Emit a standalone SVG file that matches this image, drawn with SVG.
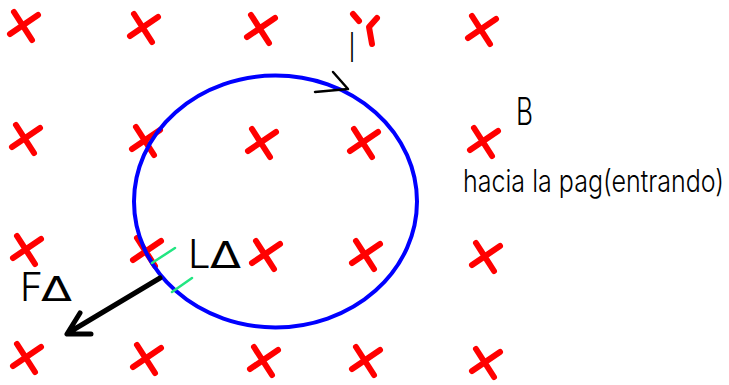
<svg xmlns="http://www.w3.org/2000/svg" width="729" height="385" viewBox="0 0 729 385">
<style>
.x{fill:none;stroke:#ff0000;stroke-width:6;stroke-linecap:round;stroke-linejoin:round}
.ring{fill:none;stroke:#0000ff;stroke-width:4}
.blk{fill:none;stroke:#000;stroke-linecap:round;stroke-linejoin:round}
.grn{fill:none;stroke:#22e682;stroke-width:2.5;stroke-linecap:round}
.t{font-family:Inter,"Liberation Sans",sans-serif;font-weight:300;fill:#000}
.d{font-family:"DejaVu Sans","Liberation Sans",sans-serif;font-weight:normal;fill:#000}
</style>
<defs>
<path id="xm" d="M-11,-15 L7,13 M13,-12 L-15,7"/>
</defs>
<rect width="729" height="385" fill="#fff"/>
<g id="field">
<use href="#xm" class="x" x="25" y="27"/>
<use href="#xm" class="x" x="145" y="29"/>
<use href="#xm" class="x" x="262" y="30"/>
<path class="x" d="M353,14 L359,21 M377,18 L369,27 L372,44" stroke-width="5"/>
<use href="#xm" class="x" x="483" y="31"/>
<use href="#xm" class="x" x="27" y="140"/>
<use href="#xm" class="x" x="147" y="142"/>
<use href="#xm" class="x" x="263" y="144"/>
<use href="#xm" class="x" x="365" y="144"/>
<use href="#xm" class="x" x="485" y="143"/>
<use href="#xm" class="x" x="28" y="251"/>
<use href="#xm" class="x" x="148" y="253"/>
<use href="#xm" class="x" x="267" y="256"/>
<use href="#xm" class="x" x="367" y="256"/>
<use href="#xm" class="x" x="487" y="258"/>
<use href="#xm" class="x" x="28" y="359"/>
<use href="#xm" class="x" x="148" y="360"/>
<use href="#xm" class="x" x="265" y="362"/>
<use href="#xm" class="x" x="367" y="362"/>
<use href="#xm" class="x" x="487" y="364"/>
</g>
<g id="loop">
<ellipse class="ring" cx="275.5" cy="201.5" rx="141.5" ry="126"/>
<path class="blk" stroke-width="2.5" d="M333,72 L348,89 L315,92"/>
</g>
<g id="segment">
<path class="grn" d="M152,263 L175,248 M172,292 L192,278"/>
</g>
<g id="force">
<path class="blk" stroke-width="5" d="M160,278 L68,333 M80,313 L67,334 L91,334"/>
</g>
<g id="labels">
<text class="t" x="349" y="62" font-size="41" textLength="6" lengthAdjust="spacingAndGlyphs">I</text>
<text class="t" x="516" y="125" font-size="38" textLength="17" lengthAdjust="spacingAndGlyphs">B</text>
<text class="t" transform="translate(463,192) scale(0.77,1)" x="0" y="0" font-size="31" textLength="339" lengthAdjust="spacingAndGlyphs">hacia la pag(entrando)</text>
<text x="188" y="268"><tspan class="t" font-size="40">L</tspan><tspan class="d" x="210" font-size="37" textLength="31" lengthAdjust="spacingAndGlyphs">Δ</tspan></text>
<text x="20" y="301"><tspan class="t" font-size="39">F</tspan><tspan class="d" x="41" font-size="33" textLength="31" lengthAdjust="spacingAndGlyphs">Δ</tspan></text>
</g>
</svg>
